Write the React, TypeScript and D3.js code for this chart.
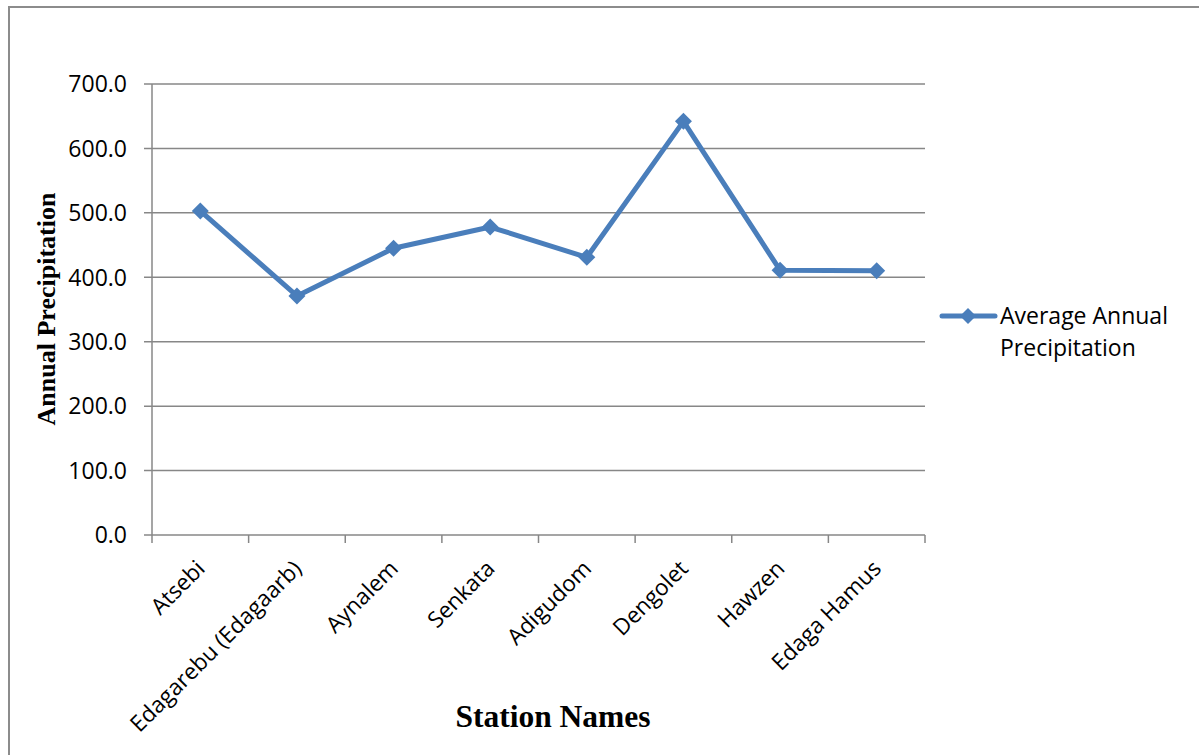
import React from "react";
import * as d3 from "d3";

const stations = [
  "Atsebi",
  "Edagarebu (Edagaarb)",
  "Aynalem",
  "Senkata",
  "Adigudom",
  "Dengolet",
  "Hawzen",
  "Edaga Hamus",
];
const precipitation = [503, 371, 445, 478, 431, 642, 411, 410];
const yTicks = [0, 100, 200, 300, 400, 500, 600, 700];
const seriesName = ["Average Annual", "Precipitation"];

const W = 1199;
const H = 755;
const left = 152;
const right = 925;
const top = 84;
const bottom = 535;
const color = "#4A7EBB";
const grid = "#878787";
const labelFont = "'Open Sans', 'Liberation Sans', Arial, sans-serif";
const titleFont = "'Liberation Serif', 'Times New Roman', serif";

export default function App() {
  const x = d3.scaleBand<string>().domain(stations).range([left, right]).padding(0);
  const y = d3.scaleLinear().domain([0, 700]).range([bottom, top]);
  const cxOf = (i: number) => (x(stations[i]) as number) + x.bandwidth() / 2;
  const line = d3
    .line<number>()
    .x((_, i) => cxOf(i))
    .y((d) => y(d));
  const boundaries = d3.range(stations.length + 1).map((i) => left + i * x.bandwidth());
  const diamond = (cx: number, cy: number, r: number) =>
    `M${cx},${cy - r}L${cx + r},${cy}L${cx},${cy + r}L${cx - r},${cy}Z`;

  return (
    <svg
      width={W}
      height={H}
      style={{ position: "absolute", left: 0, top: 0, background: "#fff" }}
    >
      <rect x={9} y={7} width={W + 10} height={H + 10} fill="#fff" stroke="#8c8c8c" strokeWidth={2} />
      {yTicks.map((t) => (
        <g key={t}>
          <line x1={left - 8} x2={right} y1={y(t)} y2={y(t)} stroke={grid} strokeWidth={1.5} />
          <text
            x={127}
            y={y(t)}
            dy="0.36em"
            textAnchor="end"
            fontFamily={labelFont}
            fontSize={23}
            fill="#000"
          >
            {t.toFixed(1)}
          </text>
        </g>
      ))}
      <line x1={left} x2={left} y1={top} y2={bottom} stroke={grid} strokeWidth={1.5} />
      {boundaries.map((b, i) => (
        <line key={i} x1={b} x2={b} y1={bottom} y2={bottom + 8} stroke={grid} strokeWidth={1.5} />
      ))}
      {stations.map((s, i) => (
        <text
          key={s}
          transform={`translate(${cxOf(i) + 6},${bottom + 35}) rotate(-45)`}
          textAnchor="end"
          fontFamily={labelFont}
          fontSize={22.5}
          fill="#000"
        >
          {s}
        </text>
      ))}
      <path d={line(precipitation) || ""} fill="none" stroke={color} strokeWidth={5} strokeLinejoin="round" />
      {precipitation.map((v, i) => (
        <path key={i} d={diamond(cxOf(i), y(v), 8.5)} fill={color} />
      ))}
      <text
        transform={`translate(55,309) rotate(-90)`}
        textAnchor="middle"
        fontFamily={titleFont}
        fontWeight="bold"
        fontSize={26}
        fill="#000"
      >
        Annual Precipitation
      </text>
      <text
        x={553}
        y={727}
        textAnchor="middle"
        fontFamily={titleFont}
        fontWeight="bold"
        fontSize={31.5}
        fill="#000"
      >
        Station Names
      </text>
      <line x1={942} x2={995} y1={316} y2={316} stroke={color} strokeWidth={5} strokeLinecap="round" />
      <path d={diamond(968, 316, 8)} fill={color} />
      <text fontFamily={labelFont} fontSize={23} fill="#000">
        <tspan x={1000} y={324}>{seriesName[0]}</tspan>
        <tspan x={1000} y={356}>{seriesName[1]}</tspan>
      </text>
    </svg>
  );
}
